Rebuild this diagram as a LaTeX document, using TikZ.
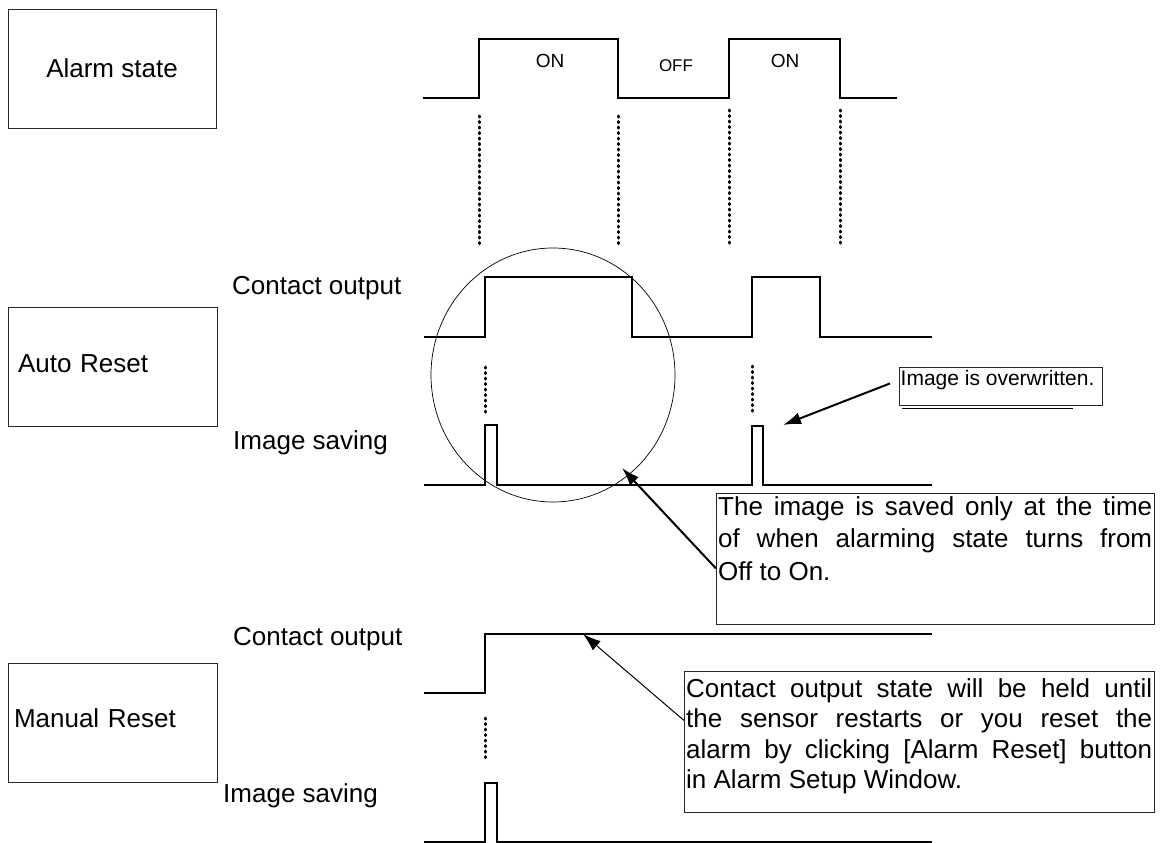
\documentclass[tikz,border=0pt]{standalone}
\usepackage{fontspec}
\setmainfont{Liberation Sans}
\usepackage{tikz}
\usetikzlibrary{arrows.meta,positioning}
\newcommand{\bigtxt}{\fontsize{26}{31}\selectfont}
\tikzstyle{box}=[draw=black!85, line width=0.9pt, inner sep=0pt]
\tikzstyle{wave}=[line width=2pt, line join=miter]
\tikzstyle{vdots}=[line width=3pt, line cap=round, dash pattern=on 1.2pt off 4.3pt]
\tikzstyle{lbl}=[anchor=base west, inner sep=0pt, font=\bigtxt]
\tikzstyle{state}=[anchor=base, inner sep=0pt]
\tikzstyle{arr}=[-{Latex[length=18pt,width=12pt]}, line width=2pt]

\begin{document}
\begin{tikzpicture}[x=1pt, y=-1pt]
    \useasboundingbox (0,0) rectangle (1165,843);

    \node[box, minimum width=208pt, minimum height=119pt, font=\bigtxt] (alarm) at (112,68.5) {Alarm state};
    \node[box, minimum width=209pt, minimum height=119pt, text width=189pt,
        inner xsep=10pt, align=left, text depth=5.6pt, font=\bigtxt] (auto) at (112.5,366.5) {Auto Reset};
    \node[box, minimum width=209pt, minimum height=119pt, text width=197pt,
        inner xsep=6pt, align=left, text depth=9.6pt, font=\bigtxt] (manual) at (112.5,722.5) {Manual Reset};

    \node[lbl] (co1) at (232,294) {Contact output};
    \node[lbl] (is1) at (233,449) {Image saving};
    \node[lbl] (co2) at (233,645) {Contact output};
    \node[lbl] (is2) at (223,802) {Image saving};

    \node[state, font=\fontsize{19}{22}\selectfont] (on1) at (550,68) {ON};
    \node[state, font=\fontsize{17}{20}\selectfont] (off) at (676,72) {OFF};
    \node[state, font=\fontsize{19}{22}\selectfont] (on2) at (785,68) {ON};

    \draw[wave] (423,98) -- (479,98) -- (479,39) -- (618,39) -- (618,98) -- (729,98)
        -- (729,39) -- (840,39) -- (840,98) -- (897,98);
    \draw[wave] (424,337) -- (485,337) -- (485,277) -- (632,277) -- (632,337) -- (752,337)
        -- (752,277) -- (820,277) -- (820,337) -- (932,337);
    \draw[wave] (424,485) -- (485,485) -- (485,425) -- (497,425) -- (497,485) -- (752,485)
        -- (752,426) -- (763,426) -- (763,485) -- (932,485);
    \draw[wave] (424,693) -- (485,693) -- (485,634) -- (932,634);
    \draw[wave] (424,842) -- (485,842) -- (485,783) -- (497,783) -- (497,842) -- (932,842);

    \foreach \x/\y in {479/116, 618/116, 729/110, 840/110}
        \draw[vdots] (\x,\y) -- (\x,246);
    \draw[vdots] (485,367) -- (485,413);
    \draw[vdots] (752,366) -- (752,414);
    \draw[vdots] (485,718) -- (485,758);

    \draw[line width=0.7pt] (553,375) ellipse [x radius=122, y radius=127];

    \node[box, anchor=north west, minimum width=438pt, minimum height=131pt] (saved) at (716,493) {};
    \node[anchor=north west, inner xsep=2pt, inner ysep=3pt, text width=434pt, align=justify,
        font=\fontsize{26}{32.5}\selectfont] (savedtxt) at (saved.north west)
        {The image is saved only at the time\linebreak of when alarming state turns from\linebreak Off to On.};

    \node[box, anchor=north west, minimum width=470pt, minimum height=141pt] (held) at (684,671) {};
    \node[anchor=north west, inner xsep=2pt, inner ysep=7pt, text width=466pt, align=justify,
        font=\fontsize{26}{30.5}\selectfont] (heldtxt) at (held.north west)
        {Contact output state will be held until\linebreak the sensor restarts or you reset the\linebreak
        alarm by clicking [Alarm Reset] button\linebreak in Alarm Setup Window.};

    \node[box, anchor=north west, minimum width=203pt, minimum height=38pt] (over) at (899,367) {};
    \node[anchor=north west, inner xsep=1.5pt, inner ysep=3pt, font=\fontsize{21}{24}\selectfont]
        (overtxt) at (over.north west) {Image is overwritten.};
    \draw[line width=0.8pt] ([xshift=3pt,yshift=-2pt]over.south west) -- ([xshift=-30pt,yshift=-2pt]over.south east);

    \coordinate (t1) at (622,468);
    \coordinate (t2) at (583,634);
    \coordinate (t3) at (783,425);
    \draw[arr] ([yshift=-9.5pt]saved.west) -- (t1);
    \draw[arr, line width=1pt] ([yshift=21.5pt]held.west) -- (t2);
    \draw[arr] ([xshift=-9pt,yshift=3pt]over.west) -- (t3);

\end{tikzpicture}
\end{document}
